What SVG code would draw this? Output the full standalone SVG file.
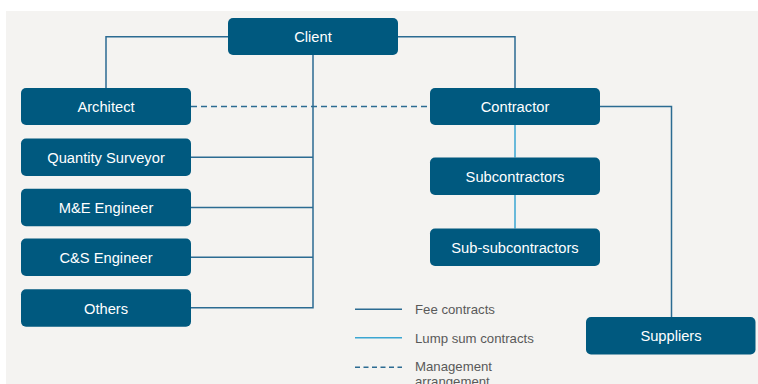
<svg xmlns="http://www.w3.org/2000/svg" width="758" height="384" viewBox="0 0 758 384">
<style>
.node rect{fill:#00597f;}
.node text{fill:#ffffff;font-family:"Liberation Sans",Arial,sans-serif;font-size:14.7px;text-anchor:middle;}
.fee{stroke:#2b6b92;stroke-width:1.5;fill:none;}
.lump{stroke:#3aa6d2;stroke-width:1.5;fill:none;}
.mgmt{stroke:#2b6b92;stroke-width:1.5;fill:none;stroke-dasharray:6 4;}
.legend text{fill:#595959;font-family:"Liberation Sans",Arial,sans-serif;font-size:13.2px;}
</style>
<rect x="0" y="0" width="758" height="384" fill="#ffffff"/>
<rect x="6" y="11" width="752" height="373" fill="#f4f3f1"/>
<g id="connectors">
<polyline class="fee" points="228,36.7 106,36.7 106,88"/>
<polyline class="fee" points="398,36.7 515,36.7 515,88"/>
<polyline class="fee" points="313,55 313,307.7 191,307.7"/>
<line class="fee" x1="191" y1="157.3" x2="313" y2="157.3"/>
<line class="fee" x1="191" y1="207.5" x2="313" y2="207.5"/>
<line class="fee" x1="191" y1="257.3" x2="313" y2="257.3"/>
<line class="mgmt" x1="191" y1="106.5" x2="430" y2="106.5"/>
<polyline class="fee" points="600,106.5 671.5,106.5 671.5,317"/>
<line class="lump" x1="515" y1="125" x2="515" y2="157.5"/>
<line class="lump" x1="515" y1="195" x2="515" y2="228.5"/>
</g>
<g id="client" class="node"><rect x="228" y="18" width="170" height="37" rx="5"/><text x="313" y="42">Client</text></g>
<g id="architect" class="node"><rect x="21" y="88" width="170" height="37" rx="5"/><text x="106" y="112">Architect</text></g>
<g id="quantity-surveyor" class="node"><rect x="21" y="138.5" width="170" height="37.5" rx="5"/><text x="106" y="162.5">Quantity Surveyor</text></g>
<g id="me-engineer" class="node"><rect x="21" y="188.7" width="170" height="37.5" rx="5"/><text x="106" y="213">M&amp;E Engineer</text></g>
<g id="cs-engineer" class="node"><rect x="21" y="238.5" width="170" height="37.5" rx="5"/><text x="106" y="262.5">C&amp;S Engineer</text></g>
<g id="others" class="node"><rect x="21" y="289.3" width="170" height="37.5" rx="5"/><text x="106" y="313.5">Others</text></g>
<g id="contractor" class="node"><rect x="430" y="88" width="170" height="37" rx="5"/><text x="515" y="112">Contractor</text></g>
<g id="subcontractors" class="node"><rect x="430" y="157.5" width="170" height="37.5" rx="5"/><text x="515" y="181.5">Subcontractors</text></g>
<g id="sub-subcontractors" class="node"><rect x="430" y="228.5" width="170" height="37.5" rx="5"/><text x="515" y="252.5">Sub-subcontractors</text></g>
<g id="suppliers" class="node"><rect x="586" y="317" width="169.5" height="37.5" rx="5"/><text x="671" y="341">Suppliers</text></g>
<g id="legend" class="legend">
<line class="fee" x1="355" y1="309.3" x2="402" y2="309.3"/>
<line class="lump" x1="355" y1="337.7" x2="402" y2="337.7"/>
<line class="mgmt" x1="355" y1="367.3" x2="402" y2="367.3" style="stroke-dasharray:5 3.5"/>
<text x="415" y="314">Fee contracts</text>
<text x="415" y="343">Lump sum contracts</text>
<text x="415" y="371">Management</text>
<text x="415" y="386">arrangement</text>
</g>
</svg>
